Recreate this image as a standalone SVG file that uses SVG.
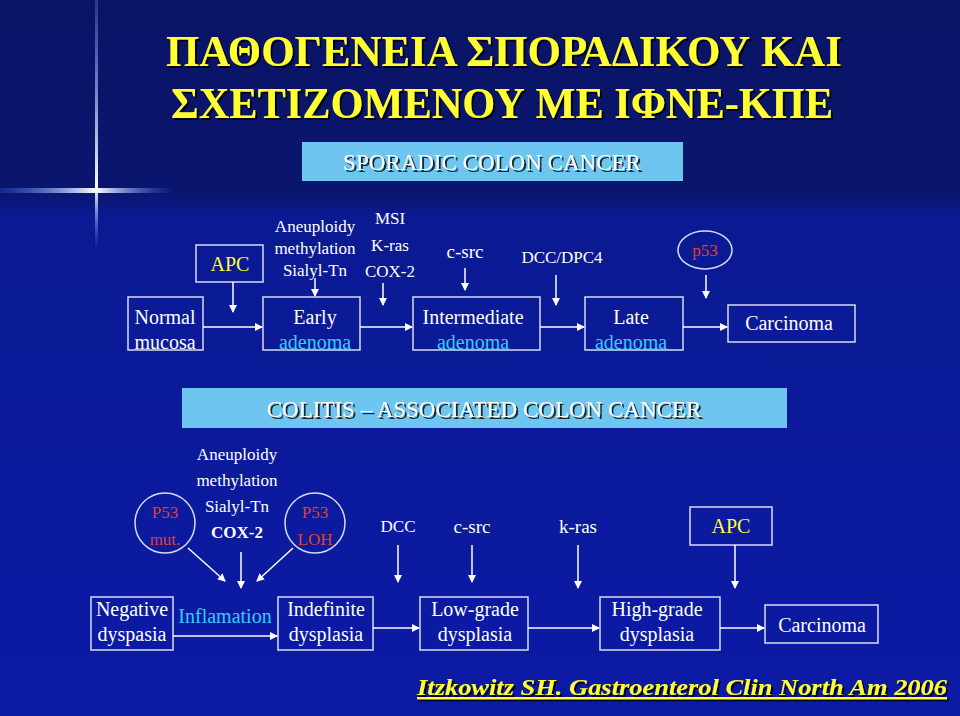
<svg xmlns="http://www.w3.org/2000/svg" width="960" height="716" viewBox="0 0 960 716">
<defs>
<linearGradient id="bg" x1="0" y1="0" x2="0" y2="1">
<stop offset="0" stop-color="#0a1466"/><stop offset="0.27" stop-color="#0a166e"/><stop offset="0.3" stop-color="#0b1a92"/><stop offset="1" stop-color="#0c1aa6"/>
</linearGradient>
<linearGradient id="hl" x1="0" y1="0" x2="1" y2="0">
<stop offset="0" stop-color="#3a6cff" stop-opacity="0.2"/><stop offset="0.55" stop-color="#ffffff"/><stop offset="1" stop-color="#3a6cff" stop-opacity="0"/>
</linearGradient>
<linearGradient id="vl" x1="0" y1="0" x2="0" y2="1">
<stop offset="0" stop-color="#6a8cff" stop-opacity="0.3"/><stop offset="0.75" stop-color="#ffffff"/><stop offset="1" stop-color="#6a8cff" stop-opacity="0"/>
</linearGradient>
<marker id="ah" markerWidth="8" markerHeight="8" refX="7" refY="4" orient="auto" markerUnits="userSpaceOnUse"><path d="M0,0 L8,4 L0,8 Z" fill="#fff"/></marker>
<filter id="sh"><feDropShadow dx="2" dy="2" stdDeviation="0.6" flood-color="#000" flood-opacity="0.8"/></filter>
</defs>
<style>
text{font-family:"Liberation Serif","Times New Roman",serif;fill:#fff;text-anchor:middle}
.box{fill:none;stroke:#d8dcf0;stroke-width:1.5}
.t{font-size:20px}
.s{font-size:17px}
.cy{fill:#33ccff}
.red{fill:#e0402a}
.yl{fill:#ffff33}
.ban{fill:#6ec6f0}
.bt{font-size:23px;filter:url(#sh)}
.c line{stroke:#fff;stroke-width:1.5;fill:none;marker-end:url(#ah)}
</style>
<rect width="960" height="716" fill="url(#bg)"/>
<rect x="0" y="188" width="175" height="5" fill="url(#hl)"/>
<rect x="95" y="0" width="3" height="250" fill="url(#vl)"/>
<g id="title" font-weight="bold" filter="url(#sh)">
<text x="504" y="66" font-size="44" class="yl" textLength="676" lengthAdjust="spacingAndGlyphs">ΠΑΘΟΓΕΝΕΙΑ ΣΠΟΡΑΔΙΚΟΥ ΚΑΙ</text>
<text x="502" y="118" font-size="44" class="yl" textLength="662" lengthAdjust="spacingAndGlyphs">ΣΧΕΤΙΖΟΜΕΝΟΥ ΜΕ ΙΦΝΕ-ΚΠΕ</text>
</g>
<g id="sporadic"><rect x="302" y="142" width="381" height="39" class="ban"/><text x="492" y="170" class="bt">SPORADIC COLON CANCER</text></g>
<g id="normal"><rect x="128" y="297" width="75" height="53" class="box"/><text x="165" y="324" class="t">Normal</text><text x="165" y="349" class="t">mucosa</text></g>
<g id="apc1"><rect x="196" y="245" width="67" height="37" class="box"/><text x="230" y="271" class="t yl">APC</text></g>
<g id="early"><rect x="263" y="297" width="97" height="53" class="box"/><text x="315" y="324" class="t">Early</text><text x="315" y="349" class="t cy">adenoma</text></g>
<g id="inter"><rect x="413" y="297" width="127" height="53" class="box"/><text x="473" y="324" class="t">Intermediate</text><text x="473" y="349" class="t cy">adenoma</text></g>
<g id="late"><rect x="585" y="297" width="98" height="53" class="box"/><text x="631" y="324" class="t">Late</text><text x="631" y="349" class="t cy">adenoma</text></g>
<g id="carc1"><rect x="728" y="305" width="127" height="37" class="box"/><text x="789" y="330" class="t">Carcinoma</text></g>
<g id="p53a"><ellipse cx="705" cy="250" rx="27" ry="19" class="box"/><text x="705" y="256" class="s red">p53</text></g>
<g id="labels1" class="s">
<text x="315" y="232">Aneuploidy</text><text x="315" y="254">methylation</text><text x="315" y="276">Sialyl-Tn</text>
<text x="390" y="224">MSI</text><text x="390" y="251">K-ras</text><text x="390" y="277">COX-2</text>
<text x="465" y="258" font-size="19">c-src</text><text x="562" y="263">DCC/DPC4</text>
</g>
<g id="colitis"><rect x="182" y="388" width="605" height="40" class="ban"/><text x="484" y="417" class="bt">COLITIS – ASSOCIATED COLON CANCER</text></g>
<g id="labels2" class="s">
<text x="237" y="460">Aneuploidy</text><text x="237" y="486">methylation</text><text x="237" y="512">Sialyl-Tn</text><text x="237" y="538" font-weight="bold">COX-2</text>
<text x="398" y="532">DCC</text><text x="472" y="533" font-size="19">c-src</text><text x="578" y="533" font-size="19">k-ras</text>
</g>
<g id="p53mut"><circle cx="165" cy="523" r="30" class="box"/><text x="165" y="518" class="s red">P53</text><text x="165" y="545" class="s red">mut.</text></g>
<g id="p53loh"><circle cx="315" cy="523" r="30" class="box"/><text x="315" y="518" class="s red">P53</text><text x="315" y="545" class="s red">LOH</text></g>
<g id="apc2"><rect x="690" y="507" width="82" height="38" class="box"/><text x="731" y="533" class="t yl">APC</text></g>
<g id="neg"><rect x="91" y="597" width="82" height="53" class="box"/><text x="132" y="616" class="t">Negative</text><text x="132" y="641" class="t">dyspasia</text></g>
<text x="225" y="623" class="t cy">Inflamation</text>
<g id="indef"><rect x="278" y="597" width="95" height="53" class="box"/><text x="326" y="616" class="t">Indefinite</text><text x="326" y="641" class="t">dysplasia</text></g>
<g id="low"><rect x="420" y="597" width="108" height="53" class="box"/><text x="475" y="616" class="t">Low-grade</text><text x="475" y="641" class="t">dysplasia</text></g>
<g id="high"><rect x="600" y="597" width="120" height="53" class="box"/><text x="657" y="616" class="t">High-grade</text><text x="657" y="641" class="t">dysplasia</text></g>
<g id="carc2"><rect x="765" y="605" width="113" height="38" class="box"/><text x="822" y="632" class="t">Carcinoma</text></g>
<g id="connectors" class="c">
<line x1="203" y1="327" x2="262" y2="327"/><line x1="360" y1="327" x2="412" y2="327"/><line x1="540" y1="327" x2="584" y2="327"/><line x1="683" y1="327" x2="727" y2="327"/>
<line x1="233" y1="282" x2="233" y2="312"/><line x1="315" y1="278" x2="315" y2="296"/><line x1="383" y1="283" x2="383" y2="305"/><line x1="465" y1="268" x2="465" y2="290"/><line x1="556" y1="275" x2="556" y2="305"/><line x1="706" y1="275" x2="706" y2="298"/>
<line x1="188" y1="548" x2="225" y2="581"/><line x1="241" y1="552" x2="241" y2="588"/><line x1="293" y1="548" x2="257" y2="581"/>
<line x1="398" y1="545" x2="398" y2="582"/><line x1="472" y1="545" x2="472" y2="582"/><line x1="578" y1="545" x2="578" y2="588"/><line x1="735" y1="545" x2="735" y2="588"/>
<line x1="173" y1="636" x2="277" y2="636"/><line x1="373" y1="628" x2="419" y2="628"/><line x1="528" y1="628" x2="599" y2="628"/><line x1="720" y1="628" x2="764" y2="628"/>
</g>
<text x="682" y="695" font-size="23" font-weight="bold" font-style="italic" class="yl" text-decoration="underline" textLength="530" lengthAdjust="spacingAndGlyphs" filter="url(#sh)">Itzkowitz SH. Gastroenterol Clin North Am 2006</text>
</svg>
